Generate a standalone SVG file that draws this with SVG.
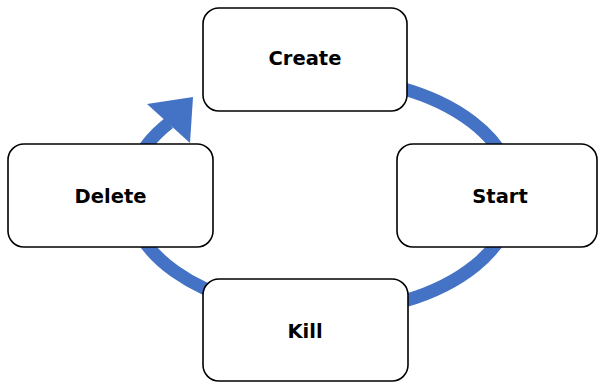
<svg xmlns="http://www.w3.org/2000/svg" width="598" height="383" viewBox="0 0 598 383">
<style>
.box{fill:#ffffff;stroke:#000000;stroke-width:1.6}
.lbl{font-family:"DejaVu Sans","Liberation Sans",sans-serif;font-weight:bold;font-size:19.5px;fill:#000000;text-anchor:middle}
.ring{fill:none;stroke:#4472C4;stroke-width:13}
.head{fill:#4472C4;stroke:none}
</style>
<rect width="598" height="383" fill="#ffffff"/>
<g id="connectors">
<path class="ring" d="M 321.5 77.5 A 192.6 117.5 0 1 1 169 123"/>
<polygon class="head" points="147,104 193,97 190,143"/>
</g>
<g id="node-create">
<rect class="box" x="203" y="8" width="204" height="103" rx="16"/>
<text class="lbl" x="305" y="65">Create</text>
</g>
<g id="node-delete">
<rect class="box" x="8" y="144" width="205" height="103" rx="16"/>
<text class="lbl" x="110.5" y="203">Delete</text>
</g>
<g id="node-start">
<rect class="box" x="397" y="144" width="200" height="103" rx="16"/>
<text class="lbl" x="500" y="203">Start</text>
</g>
<g id="node-kill">
<rect class="box" x="203" y="279" width="205" height="102" rx="16"/>
<text class="lbl" x="305" y="338">Kill</text>
</g>
</svg>
